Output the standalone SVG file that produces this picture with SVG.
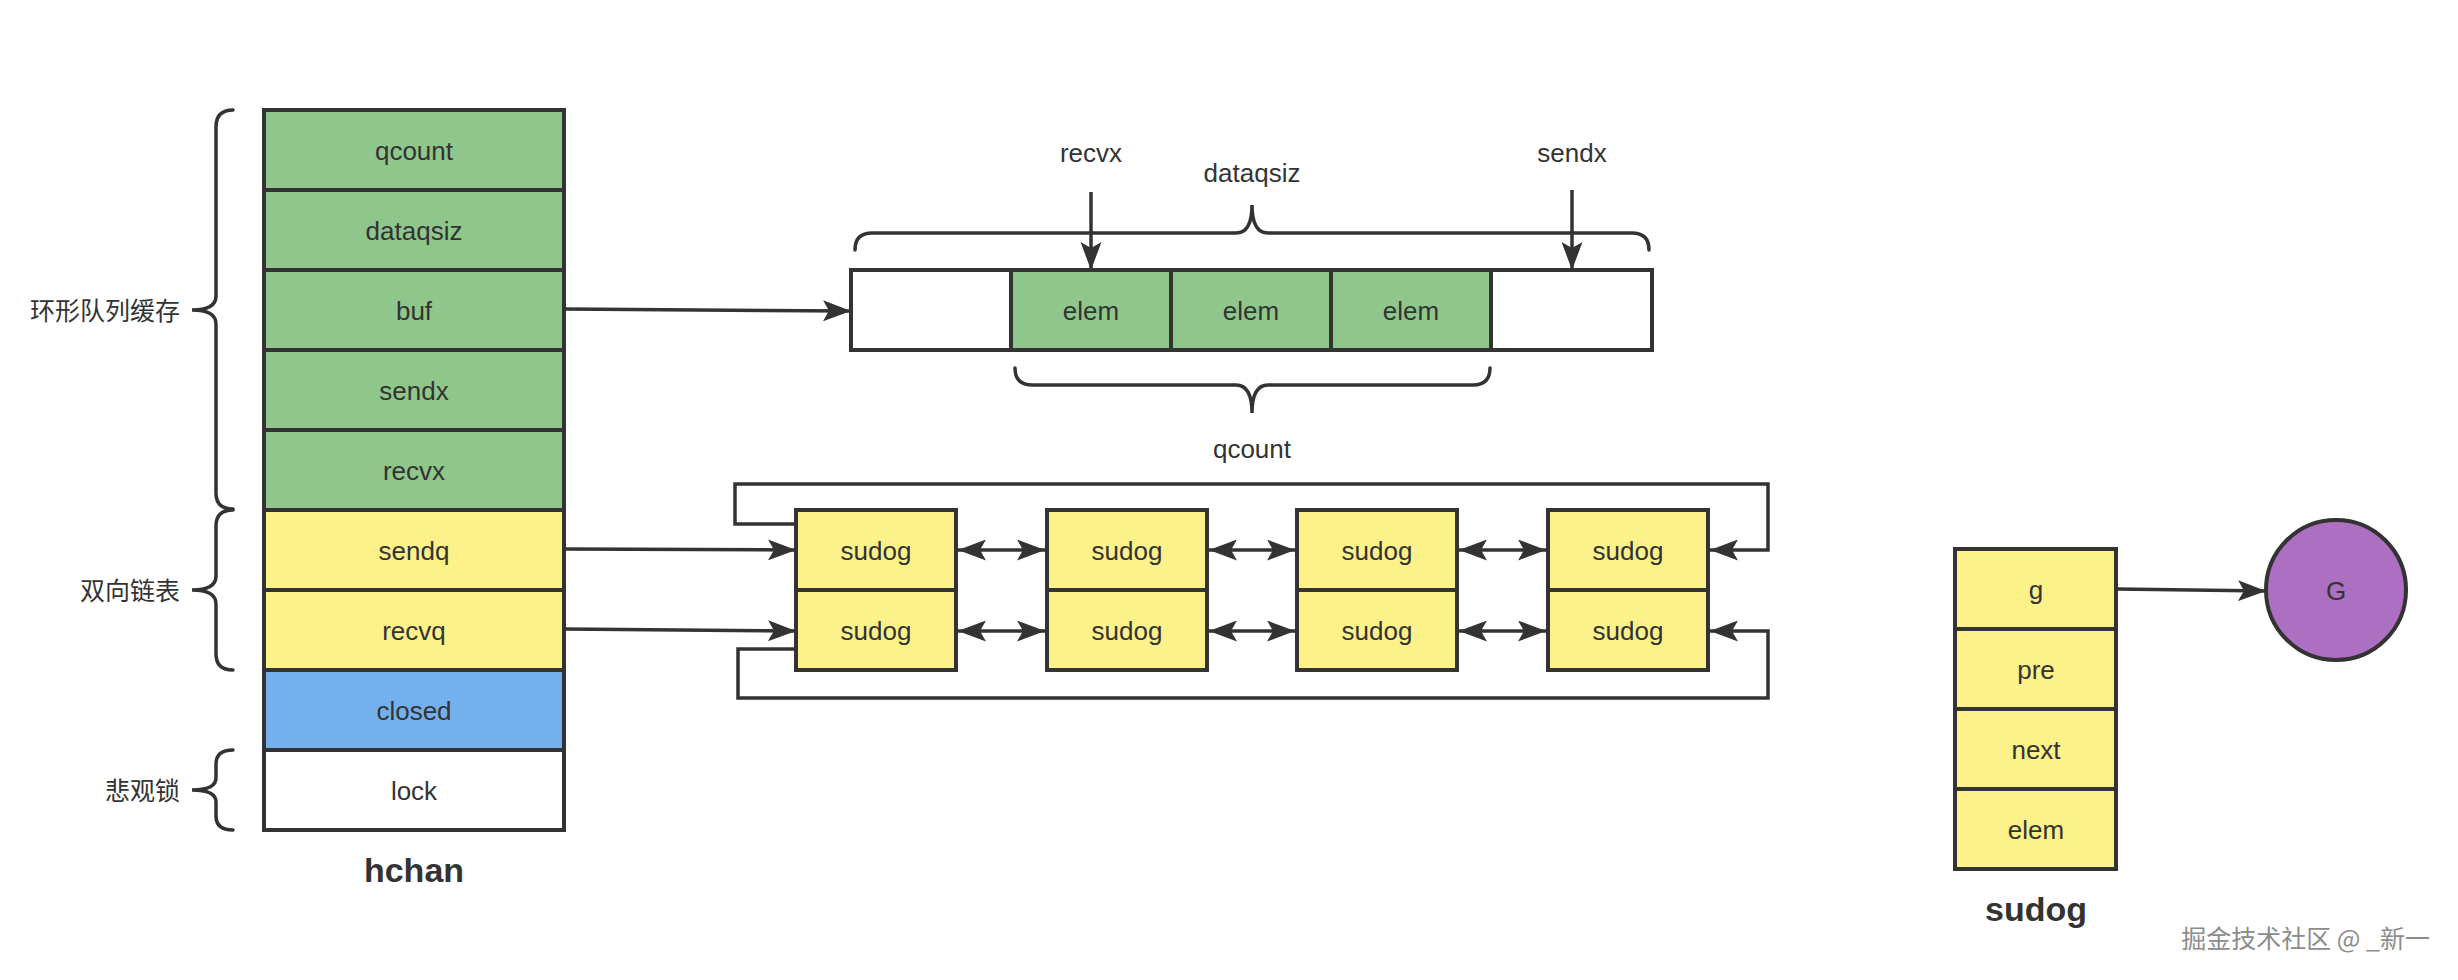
<svg xmlns="http://www.w3.org/2000/svg" width="2458" height="980" viewBox="0 0 2458 980">
<style>
.box{stroke:#333333;stroke-width:4}
.g{fill:#8FC68B}
.y{fill:#FDF18A}
.b{fill:#74B0EE}
.w{fill:#FFFFFF}
.t{font-family:"Liberation Sans",Arial,sans-serif;font-size:26px;fill:#333333;text-anchor:middle}
.cn{font-family:"Noto Sans CJK SC",sans-serif;font-size:25px;fill:#333333;text-anchor:end}
.h{font-family:"Liberation Sans",Arial,sans-serif;font-size:34px;font-weight:bold;fill:#333333;text-anchor:middle}
.ln{fill:none;stroke:#333333;stroke-width:3.5}
.br{fill:none;stroke:#333333;stroke-width:3.5;stroke-linecap:round}
</style>
<defs>
<marker id="ah" markerUnits="userSpaceOnUse" markerWidth="28" markerHeight="21" viewBox="0 0 28 21" refX="28" refY="10.5" orient="auto-start-reverse">
<path d="M0,0 L28,10.5 L0,21 L6,10.5 Z" fill="#333333"/>
</marker>
</defs>
<rect width="2458" height="980" fill="#FFFFFF"/>

<g id="hchan">
<rect class="box g" x="264" y="110" width="300" height="80"/>
<rect class="box g" x="264" y="190" width="300" height="80"/>
<rect class="box g" x="264" y="270" width="300" height="80"/>
<rect class="box g" x="264" y="350" width="300" height="80"/>
<rect class="box g" x="264" y="430" width="300" height="80"/>
<rect class="box y" x="264" y="510" width="300" height="80"/>
<rect class="box y" x="264" y="590" width="300" height="80"/>
<rect class="box b" x="264" y="670" width="300" height="80"/>
<rect class="box w" x="264" y="750" width="300" height="80"/>
<text class="t" x="414" y="160">qcount</text>
<text class="t" x="414" y="240">dataqsiz</text>
<text class="t" x="414" y="320">buf</text>
<text class="t" x="414" y="400">sendx</text>
<text class="t" x="414" y="480">recvx</text>
<text class="t" x="414" y="560">sendq</text>
<text class="t" x="414" y="640">recvq</text>
<text class="t" x="414" y="720">closed</text>
<text class="t" x="414" y="800">lock</text>
<text class="h" x="414" y="882">hchan</text>
</g>

<g id="brace-ring">
<path class="br" d="M233,110 Q216,110 216,127 L216,296 Q216,310 192,310 Q216,310 216,324 L216,493 Q216,509 233,509"/>
<text class="cn" x="180" y="320">环形队列缓存</text>
</g>
<g id="brace-list">
<path class="br" d="M233,510 Q216,510 216,526 L216,576 Q216,590 192,590 Q216,590 216,604 L216,654 Q216,670 233,670"/>
<text class="cn" x="180" y="600">双向链表</text>
</g>
<g id="brace-lock">
<path class="br" d="M233,750 Q216,750 216,764 L216,778 Q216,790 192,790 Q216,790 216,802 L216,816 Q216,830 233,830"/>
<text class="cn" x="180" y="800">悲观锁</text>
</g>

<g id="ringbuf">
<rect class="box w" x="851" y="270" width="160" height="80"/>
<rect class="box g" x="1011" y="270" width="160" height="80"/>
<rect class="box g" x="1171" y="270" width="160" height="80"/>
<rect class="box g" x="1331" y="270" width="160" height="80"/>
<rect class="box w" x="1491" y="270" width="161" height="80"/>
<text class="t" x="1091" y="320">elem</text>
<text class="t" x="1251" y="320">elem</text>
<text class="t" x="1411" y="320">elem</text>
</g>
<g id="brace-dataqsiz">
<path class="br" d="M855,250 Q855,233 872,233 L1236,233 Q1252,233 1252,205 Q1252,233 1268,233 L1632,233 Q1649,233 1649,250"/>
<text class="t" x="1252" y="182">dataqsiz</text>
</g>
<g id="brace-qcount">
<path class="br" d="M1015,368 Q1015,385 1032,385 L1236,385 Q1252,385 1252,413 Q1252,385 1268,385 L1473,385 Q1490,385 1490,368"/>
<text class="t" x="1252" y="458">qcount</text>
</g>
<g id="label-recvx"><text class="t" x="1091" y="162">recvx</text></g>
<g id="label-sendx"><text class="t" x="1572" y="162">sendx</text></g>

<g id="sudog-queue">
<rect class="box y" x="796" y="510" width="160" height="80"/>
<rect class="box y" x="796" y="590" width="160" height="80"/>
<rect class="box y" x="1047" y="510" width="160" height="80"/>
<rect class="box y" x="1047" y="590" width="160" height="80"/>
<rect class="box y" x="1297" y="510" width="160" height="80"/>
<rect class="box y" x="1297" y="590" width="160" height="80"/>
<rect class="box y" x="1548" y="510" width="160" height="80"/>
<rect class="box y" x="1548" y="590" width="160" height="80"/>
<text class="t" x="876" y="560">sudog</text>
<text class="t" x="876" y="640">sudog</text>
<text class="t" x="1127" y="560">sudog</text>
<text class="t" x="1127" y="640">sudog</text>
<text class="t" x="1377" y="560">sudog</text>
<text class="t" x="1377" y="640">sudog</text>
<text class="t" x="1628" y="560">sudog</text>
<text class="t" x="1628" y="640">sudog</text>
</g>

<g id="sudog-struct">
<rect class="box y" x="1955" y="549" width="161" height="80"/>
<rect class="box y" x="1955" y="629" width="161" height="80"/>
<rect class="box y" x="1955" y="709" width="161" height="80"/>
<rect class="box y" x="1955" y="789" width="161" height="80"/>
<text class="t" x="2036" y="599">g</text>
<text class="t" x="2036" y="679">pre</text>
<text class="t" x="2036" y="759">next</text>
<text class="t" x="2036" y="839">elem</text>
<text class="h" x="2036" y="921">sudog</text>
</g>

<g id="G">
<circle cx="2336" cy="590" r="70" fill="#AD6FC2" stroke="#333333" stroke-width="4"/>
<text class="t" x="2336" y="600">G</text>
</g>

<g id="connectors">
<line class="ln" x1="564" y1="309" x2="851" y2="311" marker-end="url(#ah)"/>
<line class="ln" x1="1091" y1="192" x2="1091" y2="270" marker-end="url(#ah)"/>
<line class="ln" x1="1572" y1="190" x2="1572" y2="270" marker-end="url(#ah)"/>
<line class="ln" x1="564" y1="549" x2="796" y2="550" marker-end="url(#ah)"/>
<line class="ln" x1="564" y1="629" x2="796" y2="631" marker-end="url(#ah)"/>
<line class="ln" x1="958" y1="550" x2="1045" y2="550" marker-start="url(#ah)" marker-end="url(#ah)"/>
<line class="ln" x1="1209" y1="550" x2="1295" y2="550" marker-start="url(#ah)" marker-end="url(#ah)"/>
<line class="ln" x1="1459" y1="550" x2="1546" y2="550" marker-start="url(#ah)" marker-end="url(#ah)"/>
<line class="ln" x1="958" y1="631" x2="1045" y2="631" marker-start="url(#ah)" marker-end="url(#ah)"/>
<line class="ln" x1="1209" y1="631" x2="1295" y2="631" marker-start="url(#ah)" marker-end="url(#ah)"/>
<line class="ln" x1="1459" y1="631" x2="1546" y2="631" marker-start="url(#ah)" marker-end="url(#ah)"/>
<polyline class="ln" points="796,524 735,524 735,484 1768,484 1768,550 1710,550" marker-end="url(#ah)"/>
<polyline class="ln" points="796,649 738,649 738,698 1768,698 1768,631 1710,631" marker-end="url(#ah)"/>
<line class="ln" x1="2117" y1="589" x2="2266" y2="591" marker-end="url(#ah)"/>
</g>

<text x="2430" y="948" font-family="'Noto Sans CJK SC',sans-serif" font-size="25" fill="#8C8C8C" text-anchor="end">掘金技术社区 @ _新一</text>
</svg>
